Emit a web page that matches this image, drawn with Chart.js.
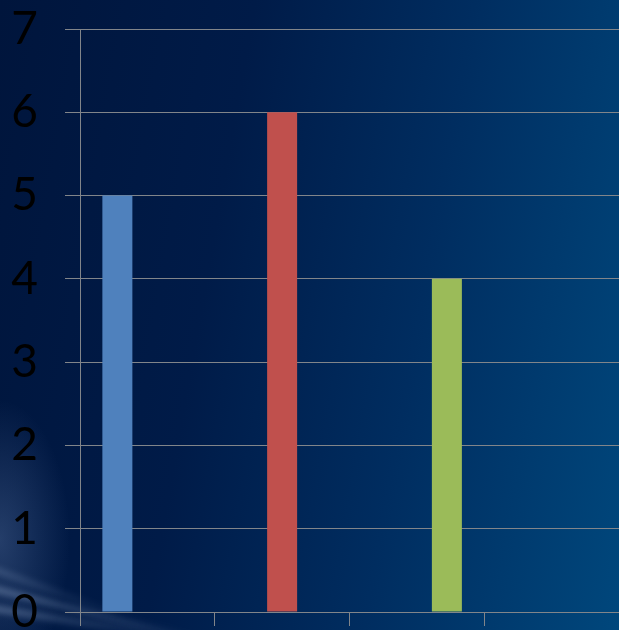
<!DOCTYPE html>
<html lang="en">
<head>
    <meta charset="UTF-8">
    <title>Bar Chart</title>
    <style>
        html, body {
            margin: 0;
            padding: 0;
            width: 619px;
            height: 630px;
            overflow: hidden;
        }
        body {
            background:
                radial-gradient(ellipse 70px 140px at 0px 540px, rgba(120, 150, 200, 0.30), rgba(120, 150, 200, 0) 100%),
                linear-gradient(100deg, #00153c 0%, #001b48 35%, #002d60 65%, #00477c 100%);
        }
        .wrap {
            position: relative;
            width: 619px;
            height: 630px;
        }
        .streak {
            position: absolute;
            height: 6px;
            border-radius: 3px;
            background: linear-gradient(90deg, rgba(190, 210, 240, 0.35), rgba(190, 210, 240, 0));
            filter: blur(3px);
            transform-origin: left center;
        }
        canvas { position: relative; }
    </style>
</head>
<body>
    <div class="wrap">
        <div class="streak" style="left:-10px; top:585px; width:230px; transform:rotate(14deg);"></div>
        <div class="streak" style="left:-10px; top:605px; width:180px; transform:rotate(9deg);"></div>
        <div class="streak" style="left:-10px; top:565px; width:140px; transform:rotate(20deg); opacity:0.6;"></div>
        <canvas id="chart"></canvas>
    </div>

    <script src="https://cdn.jsdelivr.net/npm/chart.js"></script>
    <script>
        // Data
        const categories = ['Category 1', 'Category 2', 'Category 3', 'Category 4'];
        const series1 = [5, null, null, null];
        const series2 = [null, 6, null, null];
        const series3 = [null, null, 4, null];
        const yTicks = [0, 1, 2, 3, 4, 5, 6, 7];

        const gridColor = '#81858a';

        new Chart(document.getElementById('chart'), {
            type: 'bar',
            data: {
                labels: categories,
                datasets: [
                    { label: 'Series 1', data: series1, backgroundColor: '#4f81bd' },
                    { label: 'Series 2', data: series2, backgroundColor: '#c0504d' },
                    { label: 'Series 3', data: series3, backgroundColor: '#9bbb59' }
                ]
            },
            options: {
                responsive: true,
                maintainAspectRatio: false,
                animation: false,
                layout: { padding: { top: 29, left: 0, right: 0, bottom: 4 } },
                datasets: {
                    bar: { categoryPercentage: 0.668, barPercentage: 1.0 }
                },
                plugins: {
                    legend: { display: false },
                    tooltip: { enabled: false }
                },
                scales: {
                    x: {
                        offset: true,
                        border: { display: true, color: gridColor, width: 1 },
                        grid: {
                            offset: true,
                            drawOnChartArea: false,
                            drawTicks: true,
                            tickLength: 14,
                            color: gridColor
                        },
                        ticks: { display: false }
                    },
                    y: {
                        min: 0,
                        max: 7,
                        afterFit: (scale) => {
                            scale.width = 80;
                            scale.paddingTop = 0;
                            scale.paddingBottom = 0;
                        },
                        afterBuildTicks: (scale) => {
                            scale.ticks = yTicks.map(v => ({ value: v }));
                        },
                        border: { display: true, color: gridColor, width: 1 },
                        grid: {
                            color: gridColor,
                            tickLength: 15
                        },
                        ticks: {
                            color: '#000',
                            padding: 27,
                            font: { family: 'Lato', size: 46 }
                        }
                    }
                }
            }
        });
    </script>
</body>
</html>
